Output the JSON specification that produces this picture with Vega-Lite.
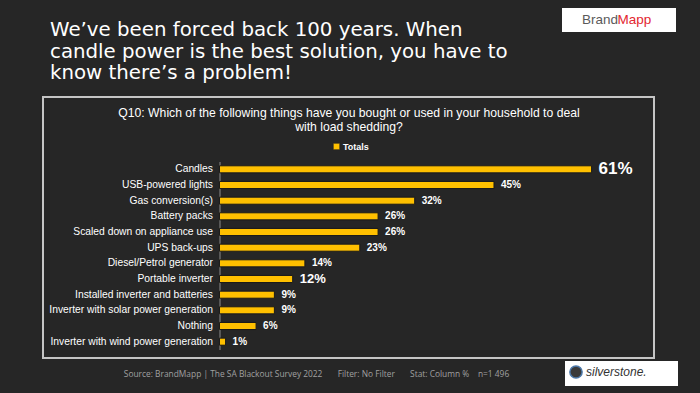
{
  "$schema": "https://vega.github.io/schema/vega-lite/v6.json",
  "width": 611,
  "height": 261,
  "autosize": "none",
  "padding": {"left": 43, "top": 97, "right": 46, "bottom": 35},
  "background": "#262626",
  "title": {
    "text": ["We\u2019ve been forced back 100 years. When", "candle power is the best solution, you have to", "know there\u2019s a problem!"],
    "anchor": "start",
    "frame": "group",
    "dx": 7,
    "offset": -75,
    "font": "DejaVu Sans",
    "fontSize": 19.8,
    "fontWeight": "normal",
    "color": "white",
    "lineHeight": 21.5
  },
  "data": {
    "values": [
      {"item": "Candles", "pct": 0.61},
      {"item": "USB-powered lights", "pct": 0.45},
      {"item": "Gas conversion(s)", "pct": 0.32},
      {"item": "Battery packs", "pct": 0.26},
      {"item": "Scaled down on appliance use", "pct": 0.26},
      {"item": "UPS back-ups", "pct": 0.23},
      {"item": "Diesel/Petrol generator", "pct": 0.14},
      {"item": "Portable inverter", "pct": 0.12},
      {"item": "Installed inverter and batteries", "pct": 0.09},
      {"item": "Inverter with solar power generation", "pct": 0.09},
      {"item": "Nothing", "pct": 0.06},
      {"item": "Inverter with wind power generation", "pct": 0.01}
    ]
  },
  "layer": [
    {
      "mark": {"type": "bar", "stroke": "#1a1a1a", "strokeWidth": 1},
      "encoding": {
        "y": {
          "field": "item", "type": "nominal", "sort": null,
          "scale": {"range": [64.5, 252.5], "paddingInner": 0.55, "paddingOuter": 0.275},
          "axis": {
            "orient": "left", "offset": -176.5,
            "domainColor": "#8a8a8a", "domainWidth": 1, "ticks": false, "grid": false,
            "labelPadding": 7, "labelColor": "white", "labelFontSize": 10.3, "labelFont": "Liberation Sans", "labelLimit": 300,
            "title": ["Q10: Which of the following things have you bought or used in your household to deal", "with load shedding?"],
            "titleAngle": 0, "titleX": 129, "titleY": 9, "titleAlign": "center", "titleBaseline": "top",
            "titleColor": "white", "titleFontSize": 12.2, "titleFontWeight": "normal", "titleFont": "Liberation Sans", "titleLineHeight": 14.5
          }
        },
        "x": {
          "field": "pct", "type": "quantitative",
          "scale": {"domain": [-0.2893, 0.7123], "nice": false, "zero": false},
          "axis": {
            "domain": false, "ticks": false, "labels": false, "grid": false,
            "title": "Source: BrandMapp | The SA Blackout Survey 2022\u00a0\u00a0\u00a0\u00a0\u00a0\u00a0\u00a0Filter: No Filter\u00a0\u00a0\u00a0\u00a0\u00a0\u00a0\u00a0Stat: Column %\u00a0\u00a0\u00a0\u00a0n=1 496",
            "titleX": 273, "titleY": 15, "titleAlign": "center", "titleBaseline": "middle",
            "titleColor": "#a0a0a0", "titleFontSize": 8.4, "titleFont": "Open Sans", "titleFontWeight": "normal"
          }
        },
        "x2": {"datum": 0},
        "color": {
          "datum": "Totals",
          "scale": {"range": ["#FFC000"]},
          "legend": {
            "orient": "none", "legendX": 289, "legendY": 45, "title": null, "padding": 0,
            "symbolType": "square", "symbolSize": 40, "symbolStrokeColor": "#222", "symbolStrokeWidth": 0.5,
            "labelColor": "white", "labelFontSize": 9, "labelFontWeight": "bold", "labelFont": "Liberation Sans", "labelOffset": 2
          }
        }
      }
    },
    {
      "mark": {"type": "text", "align": "left", "baseline": "middle", "dx": 7, "fontWeight": "bold", "color": "white", "font": "Liberation Sans"},
      "encoding": {
        "y": {"field": "item", "type": "nominal", "sort": null},
        "x": {"field": "pct", "type": "quantitative"},
        "text": {"field": "pct", "type": "quantitative", "format": ".0%"},
        "size": {
          "condition": [
            {"test": "datum.item === 'Candles'", "value": 17},
            {"test": "datum.item === 'Portable inverter'", "value": 13}
          ],
          "value": 10
        }
      }
    },
    {
      "mark": {"type": "point", "opacity": 0},
      "encoding": {
        "y": {"field": "item", "type": "nominal", "sort": null},
        "x": {"field": "pct", "type": "quantitative"},
        "shape": {
          "datum": "Mapp\u00a0\u00a0\u00a0\u00a0\u00a0\u200b",
          "legend": {
            "orient": "none", "legendX": 519, "legendY": -89,
            "title": "\u200b\u00a0\u00a0\u00a0\u00a0Brand", "titleOrient": "left", "titlePadding": 0,
            "titleColor": "#5a5a5a", "titleFontSize": 13.5, "titleFontWeight": "normal", "titleFont": "Liberation Sans",
            "labelColor": "#e3262f", "labelFontSize": 13.5, "labelFont": "Liberation Sans", "labelOffset": -15,
            "symbolSize": 0, "symbolOpacity": 0, "fillColor": "white", "padding": 5
          }
        }
      }
    },
    {
      "mark": {"type": "point", "opacity": 0},
      "encoding": {
        "y": {"field": "item", "type": "nominal", "sort": null},
        "x": {"field": "pct", "type": "quantitative"},
        "fill": {
          "datum": "silverstone.\u00a0\u00a0\u00a0\u00a0\u00a0\u00a0\u00a0\u00a0\u200b",
          "scale": {"range": ["#3a3a3a"]},
          "legend": {
            "orient": "none", "legendX": 522, "legendY": 264, "title": null,
            "symbolType": "circle", "symbolSize": 150, "symbolOpacity": 1,
            "labelColor": "#333333", "labelFontSize": 12, "labelFontStyle": "italic", "labelFont": "Liberation Sans",
            "labelOffset": 3, "fillColor": "white", "padding": 4
          }
        }
      }
    }
  ],
  "config": {
    "view": {"stroke": "#c4c4c4", "strokeWidth": 2}
  }
}
